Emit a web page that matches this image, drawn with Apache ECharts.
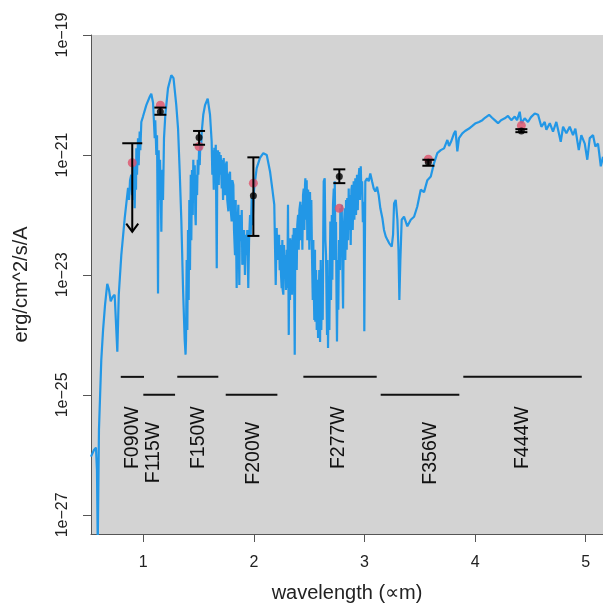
<!DOCTYPE html>
<html>
<head>
<meta charset="utf-8">
<script src="https://cdn.jsdelivr.net/npm/echarts@6/dist/echarts.min.js"></script>
<style>html,body{margin:0;padding:0;background:#fff}#c{width:603px;height:603px}</style>
</head>
<body>
<div id="c"></div>
<script>
// ---- Spectrum (wavelength in micron, log10 flux in erg/cm^2/s/A) ----
const specWave = [0.527,0.554,0.572,0.581,0.588,0.599,0.608,0.620,0.636,0.654,0.674,0.690,0.705,0.722,0.741,0.756,0.765,0.778,0.801,0.832,
0.862,0.871,0.880,0.891,0.898,0.907,0.911,0.916,0.922,0.929,0.934,0.937,0.943,0.952,0.958,0.967,0.973,0.982,0.997,1.027,1.058,1.072,
1.088,1.103,1.108,1.118,1.124,1.127,1.133,1.139,1.145,1.151,1.157,1.163,1.169,1.174,1.178,1.187,1.199,1.223,1.253,1.273,1.298,1.314,1.329,1.344,1.359,1.374,1.382,
1.386,1.392,1.398,1.404,1.410,1.416,1.422,1.429,1.434,1.440,1.447,1.452,1.458,1.465,1.470,1.474,1.479,1.486,1.492,1.497,1.504,1.510,1.515,1.522,1.528,1.542,1.558,1.582,1.603,
1.618,1.624,1.630,1.637,1.642,1.648,1.655,1.664,1.669,1.675,1.682,1.687,1.693,1.700,1.709,1.714,1.721,1.727,1.732,1.739,1.745,1.754,1.759,1.769,1.775,1.784,1.790,1.799,1.805,1.814,1.820,1.829,1.835,1.844,1.850,1.859,1.868,1.874,1.883,1.890,1.895,1.904,1.911,1.919,1.926,1.935,1.940,1.949,1.956,1.965,1.971,1.980,1.987,1.995,2.001,2.010,2.025,2.055,2.085,2.116,2.146,2.166,2.184,2.197,2.206,
2.212,2.221,2.227,2.233,2.239,2.245,2.251,2.257,2.260,2.266,2.272,2.278,2.284,2.290,2.297,2.299,2.304,2.308,2.315,2.320,2.326,2.329,2.335,2.342,2.344,2.351,2.356,2.360,2.369,2.374,2.381,2.387,2.392,2.399,2.405,2.411,2.420,2.426,2.432,2.438,2.444,2.450,2.456,2.462,2.465,2.471,2.477,2.483,2.489,2.495,2.501,2.507,2.514,2.519,2.525,
2.532,2.537,2.541,2.546,2.552,2.555,2.562,2.568,2.573,2.580,2.586,2.591,2.598,2.604,2.609,2.616,2.622,2.627,2.631,2.640,2.646,2.652,2.658,2.661,2.665,2.670,2.676,2.682,2.688,2.691,2.697,2.704,2.709,2.715,2.722,2.727,2.731,2.736,2.742,2.747,2.751,2.758,2.763,2.769,2.778,2.781,2.788,2.794,2.799,2.806,2.812,2.821,2.826,2.833,2.839,2.844,2.851,2.857,2.863,2.869,2.875,2.881,2.887,2.893,2.902,2.908,2.917,2.923,2.932,2.939,2.944,2.953,2.959,2.966,2.971,2.978,2.985,2.993,2.998,3.007,
3.023,3.038,3.052,3.068,3.083,3.098,3.113,3.128,3.143,3.161,3.176,3.192,3.208,3.222,3.246,3.258,3.267,3.282,3.297,3.307,3.315,3.324,3.336,
3.357,3.387,3.418,3.448,3.477,3.508,3.538,3.568,3.599,3.628,3.658,3.689,3.719,3.749,3.764,3.782,3.809,3.823,3.839,3.854,3.884,3.909,3.945,3.972,4.005,4.035,4.065,4.089,4.126,4.153,4.177,4.207,4.234,4.268,4.297,4.327,4.358,4.379,4.403,4.418,4.448,4.478,4.505,4.539,4.569,4.599,4.629,4.644,4.675,4.704,4.734,4.750,4.774,4.795,4.825,4.855,4.885,4.906,4.937,4.960,4.991,5.014,5.036,5.066,5.087,5.111,5.136,5.156];
const specLogFlux = [-26.03,-25.92,-25.88,-26.25,-27.50,-25.58,-25.08,-24.42,-23.92,-23.50,-23.15,-23.25,-23.44,-23.37,-23.33,-23.36,-24.28,-23.33,-22.67,-22.05,
-21.55,-21.75,-21.42,-21.33,-21.67,-21.17,-21.75,-21.50,-21.89,-21.08,-21.58,-20.89,-21.33,-20.72,-21.17,-20.61,-20.92,-20.45,-20.36,-20.17,-20.03,-19.98,
-20.13,-20.72,-20.42,-21.00,-20.67,-21.42,-23.31,-20.92,-21.75,-21.08,-21.58,-22.28,-21.33,-21.25,-21.75,-20.72,-20.33,-19.89,-19.67,-19.72,-20.17,-20.56,-21.28,-22.11,-23.22,-24.08,-24.33,
-24.08,-22.75,-23.92,-22.25,-23.42,-21.75,-22.92,-21.33,-22.42,-21.25,-22.00,-21.08,-21.75,-21.17,-22.00,-22.17,-21.33,-21.67,-21.08,-21.33,-20.92,-21.17,-20.83,-20.92,-20.62,-20.33,-20.17,-20.06,-20.33,
-20.78,-21.33,-20.92,-21.58,-20.88,-21.25,-20.83,-22.89,-21.08,-20.92,-21.50,-20.95,-21.33,-21.00,-21.56,-21.08,-21.75,-21.05,-21.50,-21.67,-21.17,-21.11,-21.75,-21.94,-21.33,-21.28,-21.92,-22.11,-21.42,-21.50,-22.25,-22.67,-21.75,-23.22,-22.25,-21.83,-23.17,-22.00,-22.44,-21.92,-22.83,-22.78,-22.25,-23.00,-22.33,-22.67,-22.25,-23.22,-22.42,-22.00,-22.33,-21.72,-22.17,-21.83,-21.58,-21.44,-21.22,-21.05,-20.97,-21.00,-21.28,-21.56,-21.83,-23.17,-22.22,
-22.75,-22.44,-22.33,-22.92,-22.50,-23.00,-23.22,-22.42,-23.25,-23.33,-22.50,-22.92,-22.67,-23.25,-22.58,-23.22,-22.75,-21.83,-24.00,-22.58,-23.42,-22.39,-23.08,-22.42,-23.33,-22.33,-23.25,-22.22,-24.33,-22.42,-22.22,-22.92,-22.17,-22.00,-22.58,-21.92,-21.78,-22.42,-21.83,-22.58,-21.67,-21.56,-22.25,-21.50,-21.39,-22.08,-21.42,-22.42,-21.58,-21.67,-22.58,-21.62,-22.42,-21.75,-22.67,
-23.42,-22.42,-23.22,-23.75,-22.58,-23.78,-22.92,-23.92,-23.08,-24.05,-23.42,-22.92,-24.12,-22.75,-23.92,-22.94,-23.75,-22.25,-21.44,-21.39,-22.42,-22.67,-23.58,-24.00,-22.75,-24.22,-23.08,-23.92,-22.58,-22.11,-23.42,-22.00,-23.08,-21.83,-21.56,-22.75,-21.44,-22.42,-22.12,-23.42,-24.11,-22.75,-23.58,-22.42,-22.92,-21.89,-22.58,-21.83,-22.75,-23.56,-22.25,-21.89,-22.75,-21.75,-22.58,-21.72,-22.42,-21.56,-22.25,-21.67,-22.50,-21.58,-21.50,-22.25,-21.44,-22.08,-21.39,-22.00,-21.33,-21.92,-21.42,-21.22,-21.75,-21.19,-21.58,-21.44,-22.12,-21.78,-23.94,-21.44,
-21.39,-21.44,-21.31,-21.44,-21.56,-21.61,-21.53,-21.67,-21.89,-22.05,-22.25,-22.36,-22.42,-22.47,-22.53,-22.33,-21.81,-21.75,-22.08,-22.58,-23.42,-22.75,-22.08,
-22.03,-22.19,-22.08,-22.03,-21.86,-21.58,-21.62,-21.42,-21.36,-21.14,-20.97,-20.92,-20.89,-20.75,-20.85,-20.78,-20.64,-20.60,-20.94,-20.72,-20.64,-20.60,-20.56,-20.52,-20.47,-20.45,-20.42,-20.38,-20.33,-20.38,-20.42,-20.47,-20.42,-20.39,-20.35,-20.42,-20.36,-20.42,-20.28,-20.47,-20.39,-20.45,-20.37,-20.31,-20.33,-20.53,-20.45,-20.58,-20.47,-20.61,-20.45,-20.58,-20.78,-20.53,-20.64,-20.53,-20.67,-20.56,-20.92,-20.67,-20.81,-21.08,-20.72,-20.67,-20.86,-20.81,-21.19,-21.03];

// ---- Photometry (log10 flux) ----
const filterNames = ["F090W","F115W","F150W","F200W","F277W","F356W","F444W"];
const pivotWave   = [0.900, 1.154, 1.504, 1.995, 2.772, 3.577, 4.418];
const obsLogFlux  = [null, -20.28, -20.71, -21.68, -21.36, -21.12, -20.60];
const obsLogHigh  = [-20.805, -20.21, -20.60, -21.04, -21.24, -21.08, -20.57];
const obsLogLow   = [-22.28, -20.33, -20.83, -22.35, -21.47, -21.18, -20.62];
const upperLimit  = [true, false, false, false, false, false, false];
const modelLogFlux= [-21.13, -20.17, -20.86, -21.47, -21.89, -21.07, -20.51];

// ---- Filter bandpasses ----
const filterStart = [0.796, 1.000, 1.307, 1.745, 2.447, 3.146, 3.893];
const filterEnd   = [1.006, 1.287, 1.678, 2.212, 3.110, 3.857, 4.964];
const filterLevel = [-24.70, -25.00, -24.70, -25.00, -24.70, -25.00, -24.70];
const labelWave   = [0.900, 1.096, 1.500, 1.997, 2.766, 3.595, 4.433];
const labelLog    = [-25.19, -25.45, -25.19, -25.45, -25.19, -25.45, -25.19];

// ---- Axes ----
const xTicks = [1, 2, 3, 4, 5];
const yTicks = [-27, -25, -23, -21, -19];
const xMin = 0.527, xMax = 5.156, yMin = -27.32, yMax = -19;

const FONT = '"Liberation Sans", Arial, Helvetica, sans-serif';
const chart = echarts.init(document.getElementById('c'), null, {renderer: 'canvas'});

const specData = specWave.map((w, i) => [w, specLogFlux[i]]);
const modelData = pivotWave.map((w, i) => [w, modelLogFlux[i]]);
const obsData = pivotWave.map((w, i) => [w, obsLogFlux[i]]).filter(d => d[1] !== null);
const errData = pivotWave.map((w, i) => [w, obsLogLow[i], obsLogHigh[i], upperLimit[i] ? 1 : 0]);
const bandData = filterStart.map((s, i) => [s, filterEnd[i], filterLevel[i]]);
const labelData = labelWave.map((w, i) => [w, labelLog[i]]);

chart.setOption({
  animation: false,
  backgroundColor: '#ffffff',
  grid: {left: 91, right: 0, top: 35, bottom: 69, show: true, backgroundColor: '#d3d3d3', borderWidth: 0,
    containLabel: false, outerBoundsMode: 'none'},
  xAxis: {
    type: 'value', min: xMin, max: xMax,
    name: 'wavelength (\u221Dm)', nameLocation: 'middle', nameGap: 49,
    nameTextStyle: {fontFamily: FONT, fontSize: 20, color: '#222'},
    axisLine: {show: true, lineStyle: {color: '#555', width: 1}},
    axisTick: {show: true, inside: false, length: 8, customValues: xTicks, lineStyle: {color: '#555'}},
    axisLabel: {customValues: xTicks, margin: 21, fontFamily: FONT, fontSize: 16, color: '#222', formatter: v => String(v)},
    splitLine: {show: false}
  },
  yAxis: {
    type: 'value', min: yMin, max: yMax,
    name: 'erg/cm^2/s/A', nameLocation: 'middle', nameGap: 60,
    nameTextStyle: {fontFamily: FONT, fontSize: 20, color: '#222'},
    axisLine: {show: true, lineStyle: {color: '#555', width: 1}},
    axisTick: {show: true, inside: false, length: 8, customValues: yTicks, lineStyle: {color: '#555'}},
    axisLabel: {customValues: yTicks, rotate: 90, margin: 20, fontFamily: FONT, fontSize: 16, color: '#222',
      formatter: v => '1e\u2212' + Math.round(-v)},
    splitLine: {show: false}
  },
  series: [
    {
      type: 'line', data: specData, showSymbol: false, clip: true,
      lineStyle: {color: '#2297E6', width: 2.2}, z: 2
    },
    {
      type: 'custom', data: bandData, clip: true, z: 3,
      renderItem: (params, api) => {
        const a = api.coord([api.value(0), api.value(2)]);
        const b = api.coord([api.value(1), api.value(2)]);
        return {type: 'line', shape: {x1: a[0], y1: a[1], x2: b[0], y2: b[1]},
          style: {stroke: '#111', lineWidth: 2}};
      }
    },
    {
      type: 'custom', data: labelData, z: 3,
      renderItem: (params, api) => {
        const p = api.coord([api.value(0), api.value(1)]);
        return {type: 'text', x: p[0], y: p[1], rotation: Math.PI / 2,
          style: {text: filterNames[params.dataIndex], align: 'right', verticalAlign: 'middle',
            font: '19.5px ' + FONT, fill: '#111'}};
      }
    },
    {
      type: 'scatter', data: modelData, symbol: 'circle', symbolSize: 9,
      itemStyle: {color: '#DF536B'}, z: 4
    },
    {
      type: 'custom', data: errData, z: 5,
      renderItem: (params, api) => {
        const x = api.value(0);
        const lo = api.coord([x, api.value(1)]);
        const hi = api.coord([x, api.value(2)]);
        const ul = api.value(3) === 1;
        const st = {stroke: '#000', lineWidth: 2};
        const kids = [{type: 'line', shape: {x1: hi[0], y1: hi[1], x2: lo[0], y2: lo[1]}, style: st}];
        const capW = ul ? 10 : 6;
        kids.push({type: 'line', shape: {x1: hi[0] - capW, y1: hi[1], x2: hi[0] + capW, y2: hi[1]}, style: st});
        if (ul) {
          kids.push({type: 'polyline', shape: {points: [[lo[0] - 6, lo[1] - 8], [lo[0], lo[1]], [lo[0] + 6, lo[1] - 8]]}, style: {stroke: '#000', lineWidth: 2, fill: null}});
        } else {
          kids.push({type: 'line', shape: {x1: lo[0] - capW, y1: lo[1], x2: lo[0] + capW, y2: lo[1]}, style: st});
        }
        return {type: 'group', children: kids};
      }
    },
    {
      type: 'scatter', data: obsData, symbol: 'circle', symbolSize: 7,
      itemStyle: {color: '#000'}, z: 6
    }
  ]
});
</script>
</body>
</html>
